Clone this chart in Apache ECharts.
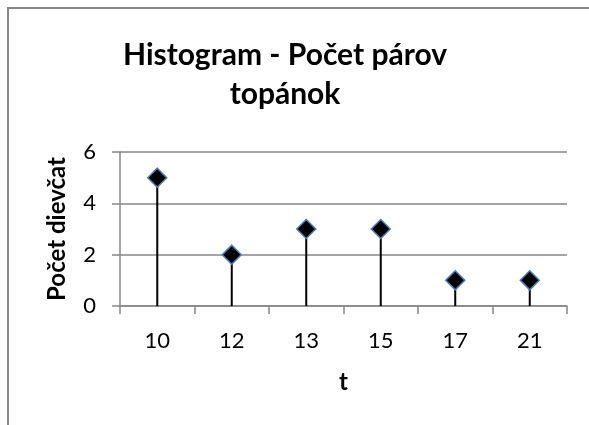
<!DOCTYPE html>
<html><head><meta charset="utf-8">
<script src="https://cdn.jsdelivr.net/npm/echarts@6/dist/echarts.min.js"></script>
<style>html,body{margin:0;padding:0;background:#fff}#c{width:589px;height:425px}</style>
</head><body><div id="c"></div>
<script>
const categories = ['10', '12', '13', '15', '17', '21'];
const counts = [5, 2, 3, 3, 1, 1];
const yTicks = [0, 2, 4, 6];
const titleText = 'Histogram - Počet párov\ntopánok';
const xName = 't';
const yName = 'Počet dievčat';

const FONT = 'Lato, "Open Sans", sans-serif';
const chart = echarts.init(document.getElementById('c'), null, {renderer: 'canvas'});
chart.setOption({
  animation: false,
  backgroundColor: '#fff',
  graphic: [{
    type: 'rect', shape: {x: 8, y: 8, width: 620, height: 460},
    style: {fill: 'none', stroke: '#868686', lineWidth: 2}, silent: true, z: -1
  }],
  title: {
    text: titleText, left: 280, top: 31, textAlign: 'center',
    textStyle: {fontFamily: FONT, fontWeight: 'bold', fontSize: 30, color: '#000', lineHeight: 39}
  },
  grid: {left: 120, right: 22, top: 152, bottom: 119, containLabel: false},
  xAxis: {
    type: 'category', data: categories, boundaryGap: true,
    name: xName, nameLocation: 'middle', nameGap: 64,
    nameTextStyle: {fontFamily: FONT, fontWeight: 'bold', fontSize: 24, color: '#000'},
    axisLine: {show: true, lineStyle: {color: '#868686', width: 1.5}},
    axisTick: {show: true, length: 8, alignWithLabel: false, lineStyle: {color: '#868686', width: 1.5}},
    axisLabel: {fontFamily: FONT, fontSize: 22, color: '#000', margin: 24},
    splitLine: {show: false}
  },
  yAxis: {
    type: 'value', min: 0, max: 6, interval: 2,
    name: yName, nameLocation: 'middle', nameGap: 51, nameRotate: 90,
    nameTextStyle: {fontFamily: FONT, fontWeight: 'bold', fontSize: 24, color: '#000'},
    axisLine: {show: true, lineStyle: {color: '#868686', width: 1.5}},
    axisTick: {show: true, length: 8, lineStyle: {color: '#868686', width: 1.5}},
    axisLabel: {fontFamily: FONT, fontSize: 22, color: '#000', margin: 24,
      formatter: v => yTicks.includes(v) ? String(v) : ''},
    splitLine: {show: true, lineStyle: {color: '#868686', width: 1.5}}
  },
  series: [
    {type: 'bar', data: counts, barWidth: 2, itemStyle: {color: '#000'}, silent: true, z: 2},
    {type: 'scatter', data: counts, symbol: 'diamond', symbolSize: [19, 19],
     itemStyle: {color: '#000', opacity: 1, borderColor: '#4a7ebb', borderWidth: 1.5}, z: 3}
  ]
});
</script></body></html>
